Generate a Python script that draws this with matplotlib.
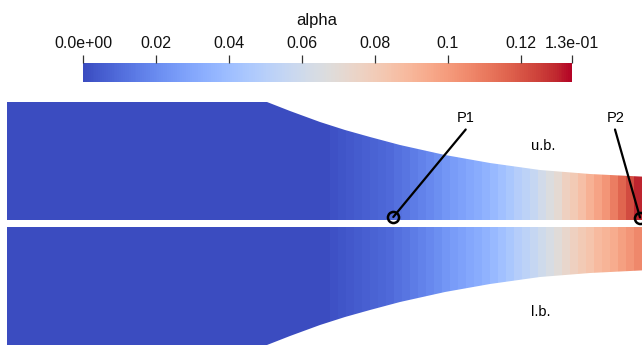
import matplotlib
matplotlib.use("Agg")
import matplotlib.pyplot as plt
import numpy as np
from matplotlib.colors import Normalize
from matplotlib.cm import ScalarMappable
from matplotlib.patches import Polygon

plt.rcParams["font.family"] = ["Liberation Sans", "DejaVu Sans"]

# ---- colour scale -------------------------------------------------------
field_name = "alpha"
alpha_min, alpha_max = 0.0, 0.134
tick_values = [0.0, 0.02, 0.04, 0.06, 0.08, 0.1, 0.12, 0.134]
tick_labels = ["0.0e+00", "0.02", "0.04", "0.06", "0.08", "0.1", "0.12", "1.3e-01"]

# ---- channel geometry (screen units, y grows downward) ------------------
wall_x = [7, 267, 290, 320, 345, 370, 400, 445, 490, 540, 590, 650]
wall_top = [102, 102, 111, 122, 130, 137, 145, 155, 162.5, 170, 174, 176.5]
split_upper = 220.0     # lower face of the upper block
split_lower = 226.8     # upper face of the lower block
mirror_axis = 223.4     # symmetry line of the two blocks

# ---- alpha field: one value per mesh column ------------------------------
col_edges = [7, 330, 338, 346, 354, 362, 370, 378, 386, 394, 402, 410, 418,
             426, 434, 442, 450, 458, 466, 474, 482, 490, 498, 506, 514, 522,
             530, 538, 546, 554, 562, 570, 578, 586, 594, 602, 610, 618, 626,
             634, 650]
alpha_upper = [0.000, 0.002, 0.003, 0.004, 0.005, 0.006, 0.007, 0.008, 0.009,
               0.011, 0.013, 0.015, 0.017, 0.019, 0.021, 0.024, 0.026, 0.028,
               0.030, 0.032, 0.035, 0.038, 0.041, 0.045, 0.049, 0.052, 0.056,
               0.061, 0.066, 0.071, 0.077, 0.081, 0.086, 0.092, 0.097, 0.102,
               0.109, 0.116, 0.122, 0.130]
alpha_lower = [0.000, 0.002, 0.003, 0.004, 0.005, 0.006, 0.007, 0.008, 0.009,
               0.011, 0.013, 0.015, 0.017, 0.019, 0.021, 0.024, 0.026, 0.028,
               0.030, 0.032, 0.035, 0.038, 0.041, 0.045, 0.049, 0.052, 0.056,
               0.060, 0.064, 0.069, 0.073, 0.077, 0.081, 0.084, 0.088, 0.091,
               0.094, 0.098, 0.102, 0.106]

# ---- probes and annotations ---------------------------------------------
probe_names = ["P1", "P2"]
probe_pts = [(393.3, 217.0), (640.0, 217.5)]
probe_label_pts = [(465.5, 118.0), (615.5, 118.0)]
probe_line_ends = [(465.7, 129.5), (615.0, 129.5)]
region_labels = ["u.b.", "l.b."]
region_label_pts = [(543, 146), (541, 312)]

fig = plt.figure(figsize=(6.42, 3.45), dpi=100)
fig.patch.set_facecolor("white")
ax = fig.add_axes([0, 0, 1, 1])
ax.set_xlim(0, 642)
ax.set_ylim(345, 0)
ax.axis("off")

cmap = plt.get_cmap("coolwarm")
norm = Normalize(alpha_min, alpha_max)

# upper block outline
upper_xy = list(zip(wall_x, wall_top)) + [(650, split_upper), (7, split_upper)]
upper_poly = Polygon(upper_xy, closed=True, facecolor="none", edgecolor="none")
ax.add_patch(upper_poly)
# lower block outline (mirror of the upper wall)
wall_bottom = [2 * mirror_axis - y for y in wall_top]
lower_xy = [(7, split_lower), (650, split_lower)] + list(zip(wall_x[::-1], wall_bottom[::-1]))
lower_poly = Polygon(lower_xy, closed=True, facecolor="none", edgecolor="none")
ax.add_patch(lower_poly)

qm_u = ax.pcolormesh(col_edges, [95, split_upper], [alpha_upper],
                     cmap=cmap, norm=norm, shading="flat", antialiased=True)
qm_u.set_clip_path(upper_poly)
qm_l = ax.pcolormesh(col_edges, [split_lower, 350], [alpha_lower],
                     cmap=cmap, norm=norm, shading="flat", antialiased=True)
qm_l.set_clip_path(lower_poly)

# probes
for name, (px, py), (lx, ly), (ex, ey) in zip(probe_names, probe_pts,
                                               probe_label_pts, probe_line_ends):
    ax.plot([px, ex], [py, ey], color="black", lw=1.6, solid_capstyle="round",
            zorder=5)
    ax.plot([px], [py], marker="o", ms=8, mfc="none", mec="black", mew=1.8,
            zorder=6)
    ax.text(lx, ly, name, ha="center", va="center", fontsize=10.5,
            color="black", zorder=7)

for txt, (tx, ty) in zip(region_labels, region_label_pts):
    ax.text(tx, ty, txt, ha="center", va="center", fontsize=10.5, color="black")

# colour bar
cax = fig.add_axes([83 / 642, 1 - 82 / 345, 489 / 642, 19 / 345])
cb = fig.colorbar(ScalarMappable(norm=norm, cmap=cmap), cax=cax,
                  orientation="horizontal")
cb.outline.set_visible(False)
cax.xaxis.set_ticks_position("top")
cb.set_ticks(tick_values)
cb.set_ticklabels(tick_labels)
cax.tick_params(axis="x", direction="out", length=5.5, width=0.9,
                color="#333333", labelsize=11.5, labelcolor="#111111", pad=3)
cax.minorticks_off()
fig.text(317 / 642, 1 - 20 / 345, field_name, ha="center", va="center",
         fontsize=12, color="#111111")

fig.savefig("out.png", dpi=100, facecolor="white")
